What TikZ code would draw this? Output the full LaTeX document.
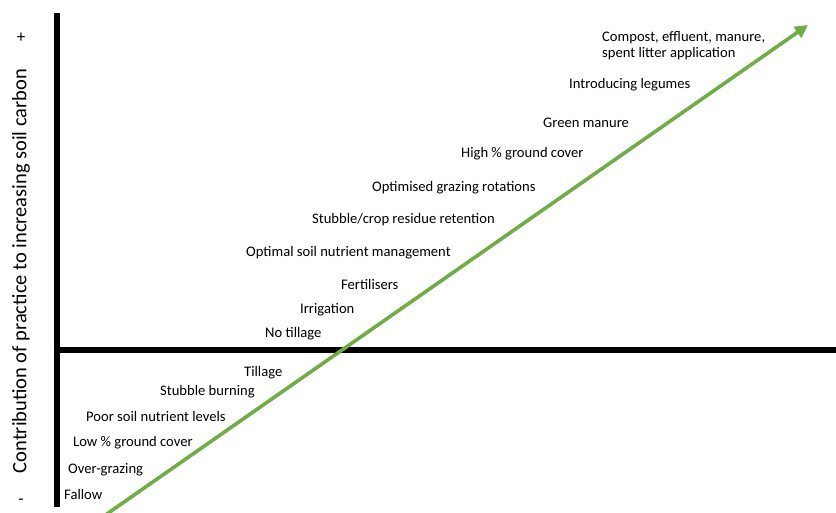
\documentclass[tikz,border=0pt]{standalone}
\usepackage{fontspec}
\setmainfont{Carlito}
\usetikzlibrary{arrows.meta}
\definecolor{trendgreen}{RGB}{112,173,71}
\begin{document}
\begin{tikzpicture}[x=1pt,y=-1pt,
  practice/.style={anchor=west,inner sep=0pt,yshift=-1.5pt,font=\fontsize{14.6}{16.5}\selectfont},
  axisline/.style={line width=6pt,black},
  trend/.style={line width=3.6pt,trendgreen,-{Triangle[length=13pt,width=13pt]}}]
\useasboundingbox (0,0) rectangle (836,513);
% axes
\coordinate (ytop) at (56.5,13);
\coordinate (ybot) at (56.5,507);
\coordinate (xleft) at (53.5,350);
\coordinate (xright) at (836,350);
\draw[axisline] (ytop) -- (ybot);
\draw[axisline] (xleft) -- (xright);
% axis annotation
\node[rotate=90,font=\fontsize{20.5}{24}\selectfont,inner sep=0pt] (ylabel) at (21,271) {Contribution of practice to increasing soil carbon};
\node[font=\fontsize{17}{19}\selectfont,inner sep=0pt] (plus) at (21,38) {+};
\node[font=\fontsize{17}{19}\selectfont,inner sep=0pt] (minus) at (21,502) {-};
% trend arrow
\coordinate (tstart) at (104,516);
\coordinate (tend) at (808,25);
\draw[trend] (tstart) -- (tend);
% practices
\node[practice,align=left] (p1) at (602,44) {Compost, effluent, manure,\\spent litter application};
\node[practice] (p2) at (569,83) {Introducing legumes};
\node[practice] (p3) at (543,121) {Green manure};
\node[practice] (p4) at (461,152) {High \% ground cover};
\node[practice] (p5) at (372,186) {Optimised grazing rotations};
\node[practice] (p6) at (312,218) {Stubble/crop residue retention};
\node[practice] (p7) at (246,251) {Optimal soil nutrient management};
\node[practice] (p8) at (341,283) {Fertilisers};
\node[practice] (p9) at (300,308) {Irrigation};
\node[practice] (p10) at (265,332) {No tillage};
\node[practice] (p11) at (244,371) {Tillage};
\node[practice] (p12) at (160,390) {Stubble burning};
\node[practice] (p13) at (86,415) {Poor soil nutrient levels};
\node[practice] (p14) at (73,441) {Low \% ground cover};
\node[practice] (p15) at (68,468) {Over-grazing};
\node[practice] (p16) at (64,493) {Fallow};
\end{tikzpicture}
\end{document}
